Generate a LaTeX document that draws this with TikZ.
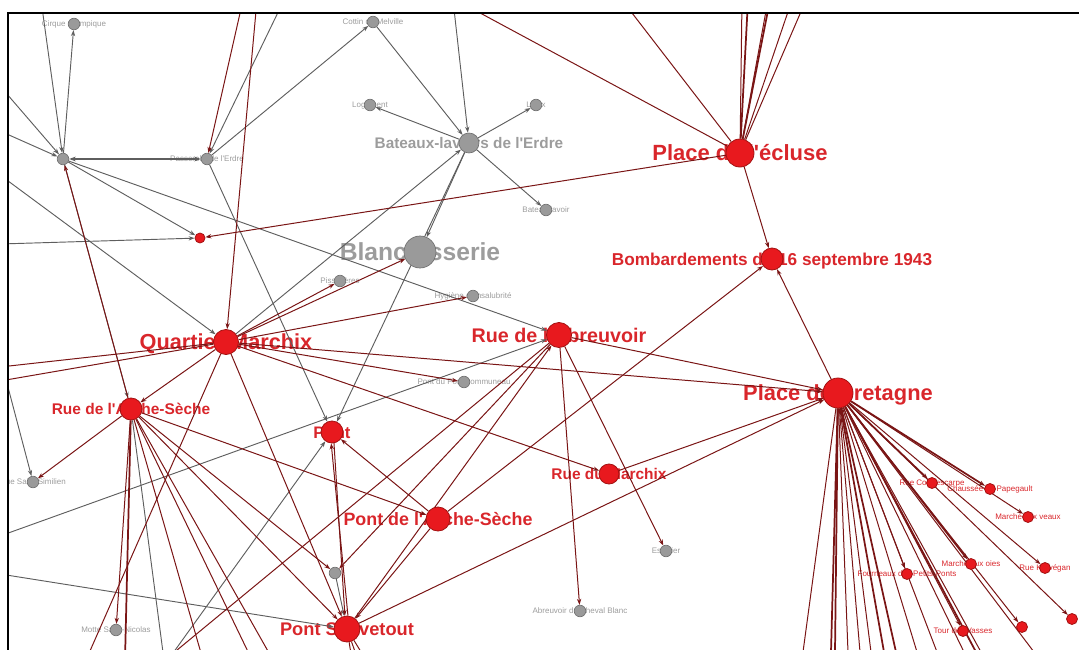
\documentclass[tikz,border=0pt]{standalone}
\usepackage{fontspec}
\setmainfont{Liberation Sans}
\usetikzlibrary{arrows.meta}
\definecolor{nodered}{HTML}{E8191E}
\definecolor{noderim}{HTML}{A31212}
\definecolor{nodegray}{HTML}{9A9A9A}
\definecolor{grayrim}{HTML}{707070}
\definecolor{linkred}{HTML}{7A1515}
\definecolor{linkgray}{HTML}{5E5E5E}
\definecolor{textred}{HTML}{D9262B}
\definecolor{textgray}{HTML}{9C9C9C}
\pgfdeclarelayer{labels}
\pgfdeclarelayer{links}
\pgfsetlayers{labels,links,main}
\newcommand{\lblfont}[1]{\fontsize{#1}{#1}\selectfont\bfseries}
\newcommand{\q}{\textquotesingle}
\tikzset{
  rednode/.style={circle,draw=noderim,fill=nodered,line width=0.6pt,inner sep=0pt,minimum size=#1*1.5pt},
  rednode/.default=5.5,
  graynode/.style={circle,draw=grayrim,fill=nodegray,line width=0.5pt,inner sep=0pt,minimum size=#1*1.5pt},
  graynode/.default=5.8,
  redtext/.style={text=textred,inner sep=0pt},
  graytext/.style={text=textgray,inner sep=0pt},
  lbl/.style={font=\lblfont{#1},anchor=base,yshift=-0.36*#1pt},
  smalllbl/.style={font=\fontsize{6}{6}\selectfont,anchor=base,yshift=-2.2pt},
  redlink/.style={draw=linkred,line width=0.75pt,-{Stealth[length=4.5pt,width=3.2pt]}},
  graylink/.style={draw=linkgray,line width=0.7pt,-{Stealth[length=4.5pt,width=3.2pt]}},
  redline/.style={draw=linkred,line width=0.75pt},
  grayline/.style={draw=linkgray,line width=0.7pt},
  fat/.style={line width=1.3pt}
}
\begin{document}
\begin{tikzpicture}[x=0.75pt,y=-0.75pt]
\useasboundingbox (0,0) rectangle (1079,650);
% Frame
\draw[line width=1.6pt,black] (8,650) -- (8,13) -- (1079,13);
% Ends outside the frame
\coordinate (t41) at (41,0);
\coordinate (t243) at (243,0);
\coordinate (t257) at (257,0);
\coordinate (t284) at (284,0);
\coordinate (t453) at (453,0);
\coordinate (t456) at (456,0);
\coordinate (t622) at (622,0);
\coordinate (t742) at (742,0);
\coordinate (t748) at (748,0);
\coordinate (t768) at (768,0);
\coordinate (t770) at (770,0);
\coordinate (t792) at (792,0);
\coordinate (t806) at (806,0);
\coordinate (l86) at (0,86);
\coordinate (l131) at (0,131);
\coordinate (l175) at (0,175);
\coordinate (l244) at (0,244);
\coordinate (l367) at (0,367);
\coordinate (l381) at (0,381);
\coordinate (lsim) at (4,372);
\coordinate (l536) at (0,536);
\coordinate (l574) at (0,574);
\coordinate (b86) at (86,660);
\coordinate (b125) at (125,660);
\coordinate (b164) at (164,660);
\coordinate (b165) at (165,660);
\coordinate (b168) at (168,660);
\coordinate (b203) at (203,660);
\coordinate (b252) at (252,660);
\coordinate (b273) at (273,660);
\coordinate (b352) at (352,660);
\coordinate (b358) at (358,660);
\coordinate (b366) at (366,660);
\coordinate (b803) at (803,652);
\coordinate (b831) at (831,652);
\coordinate (b835) at (835,652);
\coordinate (b848) at (848,652);
\coordinate (b860) at (860,652);
\coordinate (b871) at (871,652);
\coordinate (b884) at (884,652);
\coordinate (b896) at (896,652);
\coordinate (b917) at (917,652);
\coordinate (b937) at (937,652);
\coordinate (b964) at (964,652);
\coordinate (b976) at (976,652);
\coordinate (b981) at (981,652);
\coordinate (b1034) at (1034,652);
% Red nodes
\node[rednode=14] (ecluse) at (740,153) {};
\node[rednode=11] (bomb) at (772,259) {};
\node[rednode=12.5] (abreuvoir) at (559,335) {};
\node[rednode=15] (bretagne) at (838,393) {};
\node[rednode=12.5] (quartier) at (226,342) {};
\node[rednode=11] (archerue) at (131,409) {};
\node[rednode=11] (pont) at (332,432) {};
\node[rednode=10] (marchixrue) at (609,474) {};
\node[rednode=12] (archepont) at (438,519) {};
\node[rednode=13] (sauvetout) at (347,629) {};
\node[rednode=5] (petitrouge) at (200,238) {};
\node[rednode] (contrescarpe) at (932,483) {};
\node[rednode] (papegault) at (990,489) {};
\node[rednode] (veaux) at (1028,517) {};
\node[rednode] (oies) at (971,564) {};
\node[rednode] (kervegan) at (1045,568) {};
\node[rednode] (rgpetit) at (1072,619) {};
\node[rednode] (fourneaux) at (907,574) {};
\node[rednode] (vasses) at (963,631) {};
\node[rednode] (ile) at (1022,627) {};
% Gray nodes
\node[graynode=16] (blanchisserie) at (420,252) {};
\node[graynode=10] (bateaux) at (469,143) {};
\node[graynode] (cirque) at (74,24) {};
\node[graynode] (gris63) at (63,159) {};
\node[graynode] (passage) at (207,159) {};
\node[graynode] (cottin) at (373,22) {};
\node[graynode] (logement) at (370,105) {};
\node[graynode] (lieux) at (536,105) {};
\node[graynode] (bateaulavoir) at (546,210) {};
\node[graynode] (pissotieres) at (340,281) {};
\node[graynode] (hygiene) at (473,296) {};
\node[graynode] (portcommuneau) at (464,382) {};
\node[graynode] (similien) at (33,482) {};
\node[graynode] (motte) at (116,630) {};
\node[graynode] (gris335) at (335,573) {};
\node[graynode] (escalier) at (666,551) {};
\node[graynode] (chevalblanc) at (580,611) {};
% Labels
\begin{pgfonlayer}{labels}
\begin{scope}
\clip (8,13) rectangle (1079,650);
\node[redtext,lbl=16.5] (ecluse-t) at (ecluse) {Place de l\q écluse};
\node[redtext,lbl=12.9] (bomb-t) at (bomb) {Bombardements du 16 septembre 1943};
\node[redtext,lbl=14.8] (abreuvoir-t) at (abreuvoir) {Rue de l\q Abreuvoir};
\node[redtext,lbl=16.4] (bretagne-t) at (bretagne) {Place de Bretagne};
\node[redtext,lbl=16.3] (quartier-t) at (quartier) {Quartier Marchix};
\node[redtext,lbl=11.6] (archerue-t) at (archerue) {Rue de l\q Arche-Sèche};
\node[redtext,lbl=12.5] (pont-t) at (pont) {Pont};
\node[redtext,lbl=11.6] (marchixrue-t) at (marchixrue) {Rue du Marchix};
\node[redtext,lbl=13.4] (archepont-t) at (archepont) {Pont de l\q Arche-Sèche};
\node[redtext,lbl=13.7] (sauvetout-t) at (sauvetout) {Pont Sauvetout};
\node[redtext,smalllbl] (contrescarpe-t) at (contrescarpe) {Rue Contrescarpe};
\node[redtext,smalllbl] (papegault-t) at (papegault) {Chaussée du Papegault};
\node[redtext,smalllbl] (veaux-t) at (veaux) {Marché aux veaux};
\node[redtext,smalllbl] (oies-t) at (oies) {Marché aux oies};
\node[redtext,smalllbl] (kervegan-t) at (kervegan) {Rue Kervégan};
\node[redtext,smalllbl] (fourneaux-t) at (fourneaux) {Fourneaux des Petits-Ponts};
\node[redtext,smalllbl] (vasses-t) at (vasses) {Tour des Vasses};
\node[graytext,lbl=18.5] (blanchisserie-t) at (blanchisserie) {Blanchisserie};
\node[graytext,lbl=11.5] (bateaux-t) at (bateaux) {Bateaux-lavoirs de l\q Erdre};
\node[graytext,smalllbl] (cirque-t) at (cirque) {Cirque Olympique};
\node[graytext,smalllbl] (passage-t) at (passage) {Passerelle de l\q Erdre};
\node[graytext,smalllbl] (cottin-t) at (cottin) {Cottin de Melville};
\node[graytext,smalllbl] (logement-t) at (logement) {Logement};
\node[graytext,smalllbl] (lieux-t) at (lieux) {Lieux};
\node[graytext,smalllbl] (bateaulavoir-t) at (bateaulavoir) {Bateau-lavoir};
\node[graytext,smalllbl] (pissotieres-t) at (pissotieres) {Pissotières};
\node[graytext,smalllbl] (hygiene-t) at (hygiene) {Hygiène et insalubrité};
\node[graytext,smalllbl] (portcommuneau-t) at (portcommuneau) {Pont du Port-Communeau};
\node[graytext,smalllbl] (similien-t) at (similien) {Rue Saint-Similien};
\node[graytext,smalllbl] (motte-t) at (motte) {Motte Saint-Nicolas};
\node[graytext,smalllbl] (escalier-t) at (escalier) {Escalier};
\node[graytext,smalllbl] (chevalblanc-t) at (chevalblanc) {Abreuvoir du Cheval Blanc};
\end{scope}
\end{pgfonlayer}
% Links
\begin{pgfonlayer}{links}
\begin{scope}
\clip (8,13) rectangle (1079,650);
% gray links
\draw[graylink] (t41) -- (gris63);
\draw[graylink] (gris63) -- (cirque);
\draw[graylink] (l86) -- (gris63);
\draw[graylink] (l131) -- (gris63);
\draw[graylink,fat,{Stealth[length=5pt,width=3.6pt]}-{Stealth[length=5pt,width=3.6pt]}] (gris63) -- (passage);
\draw[graylink] (gris63) -- (abreuvoir);
\draw[graylink] (gris63) -- (petitrouge);
\draw[graylink] (l244) -- (petitrouge);
\draw[graylink] (l175) -- (quartier);
\draw[graylink] (gris63) -- (archerue);
\draw[graylink] (t284) -- (passage);
\draw[graylink] (passage) -- (cottin);
\draw[graylink] (passage) -- (pont);
\draw[graylink] (cottin) -- (bateaux);
\draw[graylink] (t453) -- (bateaux);
\draw[graylink] (bateaux) -- (logement);
\draw[graylink] (bateaux) -- (lieux);
\draw[graylink] (bateaux) -- (bateaulavoir);
\draw[graylink] (bateaux) -- (blanchisserie);
\draw[graylink] (quartier) -- (bateaux);
\draw[graylink] (bateaux) -- (pont);
\draw[graylink] (l536) -- (abreuvoir);
\draw[graylink] (l574) -- (sauvetout);
\draw[graylink] (lsim) -- (similien);
\draw[graylink] (b168) -- (pont);
\draw[graylink] (gris335) -- (sauvetout);
\draw[grayline] (archerue) -- (b164);
% red links
\draw[redline] (ecluse) -- (t456);
\draw[redline] (ecluse) -- (t622);
\draw[redline] (ecluse) -- (t742);
\draw[redline,fat] (ecluse) -- (t748);
\draw[redline] (ecluse) -- (t768);
\draw[redline,fat] (ecluse) -- (t770);
\draw[redline] (ecluse) -- (t792);
\draw[redline] (ecluse) -- (t806);
\draw[redlink] (ecluse) -- (petitrouge);
\draw[redlink] (ecluse) -- (bomb);
\draw[redlink] (archepont) -- (bomb);
\draw[redlink] (bretagne) -- (bomb);
\draw[redlink] (t243) -- (passage);
\draw[redlink] (t257) -- (quartier);
\draw[redlink] (archerue) -- (gris63);
\draw[redline] (quartier) -- (l367);
\draw[redline] (quartier) -- (l381);
\draw[redlink] (quartier) -- (bretagne);
\draw[redlink] (quartier) -- (pissotieres);
\draw[redlink] (quartier) -- (blanchisserie);
\draw[redlink] (quartier) -- (hygiene);
\draw[redlink] (quartier) -- (portcommuneau);
\draw[redlink] (quartier) -- (marchixrue);
\draw[redlink] (quartier) -- (archerue);
\draw[redlink] (quartier) -- (sauvetout);
\draw[redline] (quartier) -- (b86);
\draw[redlink] (archerue) -- (archepont);
\draw[redlink] (archerue) -- (similien);
\draw[redlink] (archerue) -- (motte);
\draw[redline,fat] (archerue) -- (b125);
\draw[redline] (archerue) -- (b203);
\draw[redline] (archerue) -- (b252);
\draw[redline] (archerue) -- (b273);
\draw[redlink] (archerue) -- (sauvetout);
\draw[redlink] (archerue) -- (gris335);
\draw[redlink] (archepont) -- (pont);
\draw[redlink] (archepont) -- (sauvetout);
\draw[redlink] (pont.-80) -- (sauvetout.99);
\draw[redlink] (sauvetout.86) -- (pont.-94);
\draw[redlink] (sauvetout) -- (abreuvoir);
\draw[redlink] (sauvetout) -- (bretagne);
\draw[redline] (sauvetout) -- (b352);
\draw[redline] (sauvetout) -- (b358);
\draw[redline] (sauvetout) -- (b366);
\draw[redlink] (marchixrue) -- (bretagne);
\draw[redlink] (abreuvoir) -- (bretagne);
\draw[redlink] (abreuvoir) -- (chevalblanc);
\draw[redlink] (abreuvoir) -- (escalier);
\draw[redlink] (abreuvoir) -- (gris335);
\draw[redline] (abreuvoir) -- (b165);
\draw[redlink,fat] (bretagne) -- (contrescarpe);
\draw[redlink,fat] (bretagne) -- (papegault);
\draw[redlink] (bretagne) -- (veaux);
\draw[redlink,fat] (bretagne) -- (oies);
\draw[redlink] (bretagne) -- (kervegan);
\draw[redlink] (bretagne) -- (rgpetit);
\draw[redlink] (bretagne) -- (fourneaux);
\draw[redlink] (bretagne) -- (vasses);
\draw[redlink] (bretagne) -- (ile);
\draw[redline] (bretagne) -- (b803);
\draw[redline,fat] (bretagne) -- (b831);
\draw[redline,fat] (bretagne) -- (b835);
\draw[redline] (bretagne) -- (b848);
\draw[redline] (bretagne) -- (b860);
\draw[redline] (bretagne) -- (b871);
\draw[redline,fat] (bretagne) -- (b884);
\draw[redline,fat] (bretagne) -- (b896);
\draw[redline] (bretagne) -- (b917);
\draw[redline] (bretagne) -- (b937);
\draw[redline] (bretagne) -- (b964);
\draw[redline,fat] (bretagne) -- (b976);
\draw[redline] (bretagne) -- (b981);
\draw[redline] (bretagne) -- (b1034);
\end{scope}
\end{pgfonlayer}
\end{tikzpicture}
\end{document}
